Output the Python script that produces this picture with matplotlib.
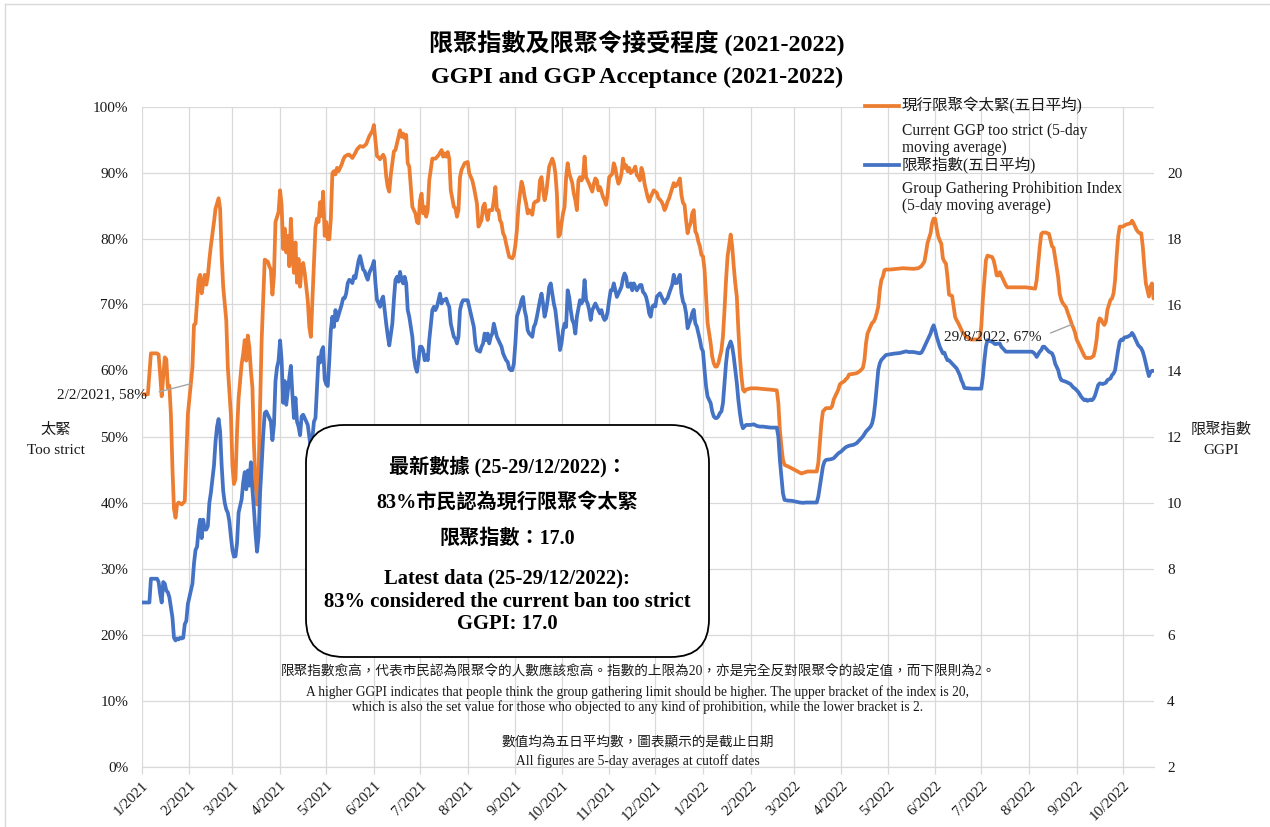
import numpy as np
import matplotlib
matplotlib.use('Agg')
import matplotlib.pyplot as plt
import matplotlib.dates as mdates
from matplotlib.ticker import FuncFormatter
from matplotlib.lines import Line2D
from matplotlib.patches import FancyBboxPatch

plt.rcParams['font.family'] = ['Liberation Serif', 'Noto Sans CJK TC']

# ---------------- data (days since 2021-01-01) ----------------
orange_days = [
    0, 4, 6, 10, 11, 12, 13, 14, 15, 16,
    17, 18, 19, 20, 21, 22, 23, 24, 26, 28,
    29, 30, 32, 33, 34, 35, 37, 38, 39, 40,
    41, 42, 43, 44, 45, 47, 48, 50, 51, 52,
    53, 55, 56, 58, 59, 60, 61, 62, 63, 65,
    66, 67, 68, 69, 70, 71, 72, 73, 74, 75,
    76, 77, 78, 79, 80, 82, 83, 84, 85, 86,
    87, 89, 90, 91, 92, 93, 94, 95, 96, 97,
    98, 99, 100, 101, 102, 103, 104, 105, 106, 107,
    108, 109, 110, 111, 112, 113, 114, 115, 116, 117,
    118, 119, 120, 121, 122, 123, 124, 125, 126, 127,
    128, 130, 131, 132, 134, 135, 137, 139, 140, 142,
    144, 146, 148, 150, 151, 152, 153, 154, 155, 157,
    158, 159, 160, 161, 162, 164, 165, 167, 168, 169,
    170, 171, 172, 173, 174, 176, 177, 178, 179, 180,
    181, 182, 183, 184, 185, 186, 187, 189, 191, 193,
    195, 196, 197, 198, 199, 200, 201, 203, 204, 205,
    206, 207, 208, 210, 212, 213, 215, 216, 218, 219,
    220, 221, 222, 223, 224, 225, 226, 228, 229, 230,
    231, 232, 233, 234, 235, 236, 237, 238, 239, 241,
    242, 243, 244, 245, 246, 247, 248, 249, 250, 251,
    252, 254, 255, 256, 257, 258, 259, 260, 261, 262,
    263, 264, 265, 267, 268, 269, 270, 271, 272, 273,
    274, 275, 276, 277, 278, 280, 281, 282, 283, 284,
    285, 286, 287, 288, 289, 290, 291, 293, 294, 295,
    296, 297, 298, 299, 300, 301, 302, 303, 304, 306,
    307, 308, 309, 310, 311, 312, 313, 314, 315, 316,
    317, 318, 320, 321, 322, 323, 324, 325, 326, 327,
    328, 329, 330, 331, 333, 335, 336, 337, 338, 339,
    340, 341, 342, 343, 345, 346, 347, 348, 349, 350,
    351, 352, 353, 354, 355, 356, 357, 358, 359, 360,
    361, 362, 363, 364, 365, 366, 367, 368, 370, 371,
    372, 373, 374, 375, 376, 377, 378, 379, 380, 381,
    383, 384, 385, 386, 387, 388, 389, 390, 391, 392,
    393, 396, 400, 404, 409, 413, 414, 415, 416, 417,
    418, 420, 425, 429, 433, 439, 440, 441, 442, 443,
    445, 448, 449, 450, 451, 452, 453, 454, 455, 457,
    458, 459, 460, 463, 465, 467, 469, 470, 471, 472,
    474, 475, 476, 477, 478, 479, 480, 481, 482, 483,
    484, 487, 491, 495, 502, 505, 507, 509, 510, 511,
    513, 514, 515, 516, 517, 518, 519, 520, 521, 522,
    523, 524, 525, 527, 528, 529, 530, 531, 532, 533,
    534, 536, 539, 545, 546, 547, 548, 549, 550, 553,
    554, 555, 556, 557, 558, 559, 560, 561, 562, 563,
    569, 575, 581, 582, 583, 584, 585, 586, 588, 590,
    592, 593, 594, 595, 596, 597, 598, 599, 600, 601,
    602, 604, 605, 606, 607, 608, 609, 610, 611, 612,
    613, 614, 617, 619, 620, 621, 622, 623, 624, 625,
    626, 627, 628, 630, 631, 632, 633, 634, 635, 636,
    638, 640, 643, 644, 645, 646, 647, 648, 649, 650,
    651, 652, 653, 654, 655, 656, 657, 658,
]
orange_pct = [
    56.4, 56.4, 62.6, 62.6, 62.4, 59.4, 56.1, 59.0, 62.0, 61.7,
    57.4, 57.7, 53.3, 45.1, 39.0, 37.7, 39.7, 40.0, 39.7, 40.2,
    46.6, 53.3, 58.0, 60.5, 66.9, 67.1, 73.8, 74.5, 71.7, 73.2,
    74.5, 73.0, 74.3, 76.8, 78.9, 82.5, 84.5, 86.1, 84.5, 77.4,
    72.7, 67.6, 60.5, 53.3, 45.6, 42.8, 43.6, 50.7, 55.8, 61.0,
    62.5, 64.6, 61.5, 65.3, 63.5, 60.0, 57.4, 48.7, 43.0, 39.7,
    44.1, 54.8, 64.6, 70.7, 76.8, 76.5, 75.8, 75.3, 71.5, 74.3,
    82.5, 84.0, 87.3, 85.0, 78.4, 81.5, 77.9, 80.4, 75.8, 83.0,
    78.0, 74.8, 79.4, 73.3, 76.9, 72.7, 75.8, 76.3, 74.8, 72.7,
    70.6, 66.6, 65.1, 70.6, 76.3, 81.7, 83.0, 82.5, 85.5, 83.4,
    87.1, 80.4, 82.5, 79.9, 79.9, 83.0, 89.9, 90.2, 89.7, 90.7,
    90.2, 91.2, 91.9, 92.4, 92.7, 92.7, 92.2, 93.0, 93.5, 94.0,
    93.9, 94.3, 95.5, 96.3, 97.2, 94.8, 92.5, 92.3, 92.0, 92.7,
    92.2, 89.4, 87.8, 87.1, 89.7, 93.2, 93.4, 95.4, 96.4, 95.4,
    95.9, 95.2, 95.7, 91.4, 90.9, 84.8, 84.3, 83.8, 82.5, 82.3,
    85.8, 86.8, 83.8, 84.8, 83.3, 84.3, 88.8, 92.1, 92.1, 92.6,
    93.4, 92.4, 92.9, 92.4, 93.1, 92.1, 87.3, 84.8, 84.6, 83.3,
    84.3, 89.3, 90.4, 91.4, 91.6, 89.9, 88.8, 87.8, 85.3, 81.8,
    82.3, 82.8, 84.8, 85.3, 83.8, 82.8, 84.3, 84.3, 85.8, 87.8,
    84.3, 84.3, 82.8, 82.3, 80.8, 80.3, 79.2, 78.2, 77.2, 77.0,
    77.5, 79.0, 81.3, 84.8, 86.8, 88.6, 87.8, 86.3, 85.3, 83.8,
    84.3, 83.6, 85.3, 85.6, 85.6, 85.8, 88.8, 89.3, 87.3, 85.8,
    86.8, 88.8, 90.9, 92.1, 91.4, 89.9, 86.8, 80.3, 80.6, 82.3,
    83.8, 84.8, 89.3, 91.4, 89.9, 88.4, 86.8, 85.8, 84.3, 88.8,
    89.3, 88.8, 89.3, 92.4, 89.3, 88.8, 88.3, 87.1, 88.3, 89.1,
    88.8, 87.3, 87.8, 87.1, 86.3, 85.8, 85.1, 86.8, 89.3, 89.8,
    91.4, 90.7, 89.3, 88.3, 88.8, 89.8, 92.1, 90.7, 91.1, 90.2,
    90.7, 89.9, 90.4, 90.9, 89.6, 89.3, 88.8, 90.7, 89.9, 88.3,
    87.3, 86.3, 85.6, 86.3, 87.3, 86.9, 86.1, 85.9, 85.6, 85.1,
    84.3, 84.8, 85.6, 86.1, 87.6, 88.4, 87.9, 88.1, 88.6, 89.1,
    86.6, 85.4, 85.1, 82.8, 80.8, 81.8, 82.3, 83.8, 84.3, 81.1,
    80.6, 79.5, 78.8, 77.5, 77.3, 75.3, 71.2, 67.2, 64.1, 62.1,
    61.1, 60.6, 60.6, 61.1, 62.1, 63.1, 65.2, 69.2, 73.7, 77.3,
    80.6, 78.8, 75.8, 73.2, 71.2, 66.2, 62.1, 59.1, 57.1, 56.8,
    57.1, 57.3, 57.3, 57.2, 57.1, 57.0, 55.1, 51.0, 48.5, 46.5,
    45.7, 45.5, 44.9, 44.4, 44.7, 44.7, 46.0, 49.0, 52.0, 53.8,
    54.3, 54.3, 54.6, 55.6, 56.1, 56.6, 57.1, 57.9, 58.1, 58.4,
    58.7, 58.9, 59.4, 59.5, 59.6, 59.9, 60.4, 61.6, 64.1, 65.6,
    66.7, 67.2, 67.4, 67.9, 68.7, 69.7, 72.2, 73.7, 74.2, 75.2,
    75.3, 75.3, 75.4, 75.5, 75.4, 75.5, 75.8, 76.5, 77.8, 79.3,
    80.8, 82.3, 83.0, 83.0, 81.5, 80.3, 79.7, 79.2, 77.0, 76.5,
    76.2, 74.2, 71.5, 71.3, 69.7, 68.1, 67.6, 67.2, 66.7, 66.2,
    65.7, 65.2, 64.7, 64.7, 66.7, 70.7, 73.7, 76.7, 77.4, 77.2,
    76.7, 75.7, 74.4, 74.4, 74.9, 74.4, 73.9, 73.4, 72.9, 72.6,
    72.6, 72.6, 72.4, 73.7, 76.2, 78.7, 80.7, 80.9, 80.9, 80.7,
    78.8, 78.6, 77.1, 75.6, 74.1, 71.6, 70.7, 70.2, 69.9, 69.6,
    68.9, 67.6, 66.9, 66.4, 65.7, 64.7, 64.2, 63.7, 63.2, 62.7,
    62.2, 61.9, 61.9, 62.2, 63.2, 64.7, 67.2, 67.9, 67.7, 67.2,
    66.9, 67.4, 69.2, 70.7, 70.9, 71.7, 73.7, 77.3, 80.3, 81.8,
    81.8, 82.1, 82.3, 82.7, 82.3, 81.8, 81.3, 81.0, 80.8, 80.8,
    78.8, 75.8, 73.2, 72.2, 71.2, 72.7, 73.2, 70.9,
]

blue_days = [
    0, 5, 6, 10, 11, 12, 13, 14, 15, 16,
    17, 18, 20, 21, 22, 23, 24, 25, 26, 27,
    28, 29, 30, 31, 33, 34, 35, 36, 37, 38,
    39, 40, 41, 42, 43, 44, 45, 47, 48, 49,
    50, 51, 52, 53, 54, 55, 56, 57, 58, 59,
    60, 61, 62, 63, 65, 66, 67, 68, 69, 70,
    71, 72, 73, 74, 75, 76, 77, 78, 79, 80,
    81, 82, 83, 84, 85, 86, 87, 88, 89, 90,
    91, 92, 93, 94, 95, 96, 97, 98, 99, 100,
    101, 102, 103, 104, 105, 106, 108, 109, 110, 111,
    112, 113, 114, 115, 116, 117, 118, 119, 120, 121,
    122, 123, 124, 125, 126, 127, 129, 130, 131, 132,
    133, 134, 135, 137, 138, 139, 140, 141, 142, 143,
    144, 145, 146, 147, 148, 150, 151, 152, 153, 154,
    155, 156, 157, 158, 159, 160, 161, 163, 164, 165,
    166, 167, 168, 169, 170, 171, 172, 173, 174, 176,
    177, 178, 179, 180, 181, 182, 183, 184, 185, 186,
    187, 189, 190, 191, 192, 193, 194, 195, 196, 197,
    198, 199, 200, 201, 203, 204, 205, 206, 207, 208,
    209, 210, 212, 213, 215, 216, 217, 218, 220, 221,
    222, 223, 224, 225, 226, 227, 228, 229, 230, 231,
    232, 234, 235, 236, 237, 238, 239, 240, 241, 242,
    243, 244, 246, 247, 248, 249, 250, 251, 252, 253,
    254, 255, 256, 257, 259, 260, 261, 262, 263, 264,
    265, 266, 267, 268, 269, 270, 272, 273, 274, 275,
    276, 277, 278, 279, 280, 281, 282, 283, 285, 286,
    287, 288, 289, 290, 291, 292, 293, 294, 295, 296,
    298, 299, 300, 301, 302, 303, 304, 305, 306, 307,
    308, 309, 311, 312, 313, 314, 315, 316, 317, 318,
    319, 320, 321, 322, 324, 325, 326, 327, 328, 329,
    330, 331, 332, 333, 334, 335, 336, 337, 338, 339,
    340, 341, 342, 343, 345, 346, 347, 348, 349, 350,
    351, 352, 353, 354, 355, 356, 357, 358, 359, 360,
    361, 362, 363, 364, 365, 366, 367, 368, 370, 371,
    372, 373, 374, 375, 376, 377, 378, 379, 380, 381,
    383, 384, 385, 386, 387, 388, 389, 390, 391, 392,
    393, 396, 398, 400, 402, 404, 409, 413, 414, 415,
    416, 417, 418, 420, 423, 425, 428, 430, 432, 436,
    439, 440, 441, 442, 443, 444, 445, 448, 450, 451,
    452, 453, 454, 455, 456, 458, 460, 463, 465, 467,
    469, 471, 474, 475, 476, 477, 478, 479, 480, 481,
    482, 484, 489, 493, 497, 499, 502, 504, 506, 507,
    508, 509, 510, 511, 513, 514, 515, 516, 517, 518,
    519, 520, 521, 522, 523, 524, 525, 527, 528, 529,
    530, 531, 532, 533, 534, 535, 540, 546, 547, 548,
    549, 550, 553, 555, 558, 559, 560, 561, 562, 563,
    571, 579, 580, 581, 582, 583, 584, 585, 586, 587,
    588, 589, 590, 592, 593, 594, 595, 596, 597, 598,
    599, 601, 604, 605, 606, 607, 608, 609, 610, 611,
    612, 613, 614, 615, 617, 618, 619, 620, 621, 622,
    623, 625, 627, 628, 630, 631, 632, 633, 634, 635,
    636, 637, 638, 639, 641, 643, 644, 645, 646, 647,
    648, 649, 650, 651, 652, 653, 654, 655, 656, 657,
    658,
]
blue_ggpi = [
    6.97, 6.97, 7.69, 7.69, 7.59, 7.23, 6.97, 7.59, 7.54, 7.33,
    7.28, 7.13, 6.51, 5.90, 5.82, 5.88, 5.85, 5.90, 5.88, 5.90,
    6.31, 6.41, 6.92, 7.13, 7.54, 8.15, 8.56, 8.66, 9.18, 9.48,
    8.92, 9.48, 9.18, 9.18, 9.28, 9.99, 10.30, 11.12, 11.84, 12.30,
    12.53, 12.15, 11.12, 10.35, 9.99, 9.79, 9.69, 9.43, 8.97, 8.56,
    8.36, 8.37, 8.77, 9.69, 10.10, 10.61, 10.92, 10.40, 10.97, 10.51,
    11.22, 10.40, 9.79, 9.07, 8.51, 8.97, 10.30, 11.12, 12.04, 12.71,
    12.76, 12.66, 12.56, 12.45, 11.89, 12.35, 13.68, 14.09, 14.30, 14.91,
    14.30, 13.02, 13.68, 12.96, 13.37, 13.78, 14.14, 13.27, 12.56, 13.17,
    12.45, 12.30, 12.04, 12.61, 12.66, 12.56, 12.35, 11.99, 11.63, 11.94,
    12.45, 12.56, 13.48, 14.40, 14.24, 14.60, 14.71, 13.73, 13.58, 13.53,
    14.30, 15.22, 15.63, 15.32, 15.83, 15.52, 15.83, 15.99, 16.19, 16.19,
    16.34, 16.65, 16.75, 16.65, 16.86, 16.80, 17.06, 17.32, 17.47, 17.27,
    17.06, 17.01, 16.86, 16.75, 16.96, 17.16, 17.32, 16.65, 16.14, 16.04,
    15.93, 16.14, 16.24, 15.83, 15.42, 15.06, 14.76, 15.42, 16.14, 16.74,
    16.84, 16.69, 16.99, 16.74, 16.64, 16.84, 16.64, 15.83, 15.63, 15.02,
    14.41, 14.11, 13.96, 14.31, 14.72, 14.72, 14.62, 14.31, 14.46, 14.31,
    14.92, 15.83, 15.93, 15.83, 15.93, 16.13, 16.33, 16.03, 16.13, 16.13,
    16.18, 16.03, 15.93, 15.42, 15.02, 14.97, 14.82, 15.02, 15.83, 16.03,
    16.13, 16.13, 16.13, 15.93, 15.53, 15.32, 14.82, 14.62, 14.57, 14.72,
    14.82, 15.12, 14.92, 15.12, 14.82, 15.02, 15.12, 15.42, 15.22, 15.02,
    14.92, 14.72, 14.52, 14.41, 14.31, 14.26, 14.06, 14.01, 14.01, 14.21,
    14.82, 15.63, 15.93, 16.13, 16.23, 15.83, 15.63, 15.22, 15.12, 15.07,
    15.02, 15.32, 15.42, 15.63, 16.13, 16.33, 16.03, 15.63, 15.83, 16.13,
    16.54, 16.64, 16.33, 16.03, 15.83, 15.42, 14.62, 14.82, 15.22, 15.42,
    15.32, 16.43, 16.23, 15.83, 15.53, 15.42, 15.12, 15.63, 16.13, 16.03,
    16.13, 16.74, 16.13, 16.03, 15.83, 15.53, 15.83, 15.93, 16.03, 15.93,
    15.73, 15.83, 15.63, 15.53, 15.58, 15.78, 16.13, 16.43, 16.43, 16.64,
    16.43, 16.23, 16.43, 16.54, 16.79, 16.94, 16.84, 16.54, 16.54, 16.64,
    16.43, 16.64, 16.54, 16.43, 16.59, 16.59, 16.38, 16.33, 16.23, 16.03,
    15.73, 15.63, 15.93, 15.98, 15.94, 16.24, 16.29, 16.34, 16.24, 16.14,
    16.04, 16.14, 16.19, 16.34, 16.60, 16.90, 16.65, 16.65, 16.80, 16.90,
    16.34, 16.09, 15.99, 15.74, 15.28, 15.43, 15.54, 15.74, 15.84, 15.43,
    15.33, 15.13, 14.93, 14.68, 14.58, 14.02, 13.52, 13.21, 13.01, 12.76,
    12.61, 12.56, 12.56, 12.61, 12.71, 12.76, 13.01, 13.62, 14.22, 14.63,
    14.88, 14.73, 14.42, 14.02, 13.62, 13.11, 12.71, 12.40, 12.25, 12.30,
    12.35, 12.35, 12.37, 12.32, 12.30, 12.30, 12.27, 12.27, 12.00, 11.29,
    10.79, 10.28, 10.08, 10.06, 10.05, 10.03, 10.00, 9.99, 10.00, 10.00,
    10.00, 10.18, 10.48, 10.79, 11.09, 11.24, 11.29, 11.31, 11.34, 11.39,
    11.44, 11.49, 11.52, 11.55, 11.60, 11.68, 11.72, 11.75, 11.80, 11.90,
    12.00, 12.15, 12.30, 12.40, 12.61, 13.01, 13.52, 14.02, 14.22, 14.32,
    14.37, 14.47, 14.51, 14.53, 14.58, 14.56, 14.56, 14.54, 14.52, 14.54,
    14.62, 14.72, 14.82, 14.92, 15.12, 15.27, 15.37, 15.22, 15.02, 14.87,
    14.72, 14.62, 14.52, 14.54, 14.41, 14.31, 14.31, 14.21, 14.16, 14.11,
    14.06, 13.96, 13.86, 13.71, 13.61, 13.47, 13.45, 13.45, 13.81, 14.31,
    14.72, 14.92, 14.87, 14.80, 14.82, 14.72, 14.67, 14.62, 14.57, 14.57,
    14.57, 14.57, 14.54, 14.49, 14.41, 14.49, 14.57, 14.62, 14.72, 14.72,
    14.67, 14.62, 14.57, 14.52, 14.41, 14.21, 14.11, 14.01, 13.81, 13.71,
    13.69, 13.66, 13.59, 13.53, 13.48, 13.45, 13.40, 13.35, 13.28, 13.20,
    13.15, 13.10, 13.12, 13.08, 13.12, 13.10, 13.15, 13.25, 13.40, 13.56,
    13.61, 13.59, 13.63, 13.71, 13.76, 13.86, 13.91, 14.01, 14.31, 14.62,
    14.87, 14.94, 14.92, 15.00, 15.02, 15.07, 15.14, 15.07, 14.97, 14.87,
    14.77, 14.72, 14.67, 14.57, 14.41, 14.21, 14.01, 13.83, 13.96, 13.99,
    13.99,
]

pct_ticks = list(range(0, 101, 10))
ggpi_ticks = list(range(2, 21, 2))
title_zh = '限聚指數及限聚令接受程度 (2021-2022)'
title_en = 'GGPI and GGP Acceptance (2021-2022)'
ann1_day, ann1_val, ann1_text = 32, 58, '2/2/2021, 58%'
ann2_day, ann2_val, ann2_text = 605, 67, '29/8/2022, 67%'

assert len(orange_days) == len(orange_pct)
assert len(blue_days) == len(blue_ggpi)

# ---------------- figure ----------------
W, H = 1270, 827
fig = plt.figure(figsize=(W / 100, H / 100), dpi=100)
fig.patch.set_facecolor('white')

def fx(x):
    return x / W

def fy(y):
    return 1 - y / H

L, R, B, T = 141.7, 1154.0, 766.5, 106.5
ax = fig.add_axes([fx(L), fy(B), (R - L) / W, (B - T) / H])
ax2 = ax.twinx()
ax2.patch.set_visible(False)

ORANGE = '#ED7D31'
BLUE = '#4472C4'
GRID = '#D9D9D9'
TXT = '#1a1a1a'

start = np.datetime64('2021-01-01')
x0 = mdates.date2num(start)
od = x0 + np.array(orange_days, dtype=float)
bd = x0 + np.array(blue_days, dtype=float)

ax.plot(od, orange_pct, color=ORANGE, lw=2.7, solid_joinstyle='round', solid_capstyle='round', zorder=3)
ax2.plot(bd, blue_ggpi, color=BLUE, lw=2.7, solid_joinstyle='round', solid_capstyle='round', zorder=3)

ax.set_xlim(x0, x0 + 658.3)
ax.set_ylim(0, 100)
ax2.set_ylim(2, 22)
ax.set_yticks(pct_ticks)
ax.yaxis.set_major_formatter(FuncFormatter(lambda v, p: f'{int(round(v))}%'))
ax2.set_yticks(ggpi_ticks)
ax2.yaxis.set_major_formatter(FuncFormatter(lambda v, p: f'{int(round(v))}'))

ax.xaxis.set_major_locator(mdates.MonthLocator())
def mfmt(v, p):
    d = mdates.num2date(v)
    return f'{d.month}/{d.year}'
ax.xaxis.set_major_formatter(FuncFormatter(mfmt))

ax.grid(True, color=GRID, lw=0.9)
ax.set_axisbelow(True)
for s in ['left', 'right', 'top']:
    ax.spines[s].set_visible(False)
ax.spines['bottom'].set_color(GRID)
ax.spines['bottom'].set_linewidth(0.9)
for s in ax2.spines.values():
    s.set_visible(False)

ax.tick_params(axis='x', length=5, width=0.9, color=GRID, labelsize=11, labelcolor=TXT, pad=4)
ax.tick_params(axis='y', length=0, labelsize=11, labelcolor=TXT, pad=9.6)
ax2.tick_params(axis='y', length=0, labelsize=11, labelcolor=TXT, pad=9.4)
for lbl in ax.get_xticklabels():
    lbl.set_rotation(45)
    lbl.set_ha('right')
    lbl.set_va('top')
    lbl.set_rotation_mode('anchor')

# annotations with leader lines
ax2.annotate(ann1_text, xy=(x0 + ann1_day, ann1_val), xycoords=ax.transData,
             xytext=(147, H - 395), textcoords='figure pixels',
             ha='right', va='center', fontsize=11, color=TXT,
             arrowprops=dict(arrowstyle='-', color='#A6A6A6', lw=1.0,
                             shrinkA=7, shrinkB=0, relpos=(1, 0.5)),
             annotation_clip=False, zorder=6)
ax2.annotate(ann2_text, xy=(x0 + ann2_day, ann2_val), xycoords=ax.transData,
             xytext=(1042, H - 336.5), textcoords='figure pixels',
             ha='right', va='center', fontsize=11, color=TXT,
             arrowprops=dict(arrowstyle='-', color='#A6A6A6', lw=1.0,
                             shrinkA=4.5, shrinkB=0, relpos=(1, 0.5)),
             annotation_clip=False, zorder=6)

# titles
fig.text(fx(637), fy(43), title_zh, ha='center', va='center', fontsize=17.4, fontweight='bold', color='black')
fig.text(fx(637), fy(77), title_en, ha='center', va='center', fontsize=17.4, fontweight='bold', color='black')

# axis titles
fig.text(fx(56), fy(430), '太緊', ha='center', va='center', fontsize=11, color=TXT)
fig.text(fx(56), fy(450), 'Too strict', ha='center', va='center', fontsize=11, color=TXT)
fig.text(fx(1221), fy(430), '限聚指數', ha='center', va='center', fontsize=11, color=TXT)
fig.text(fx(1221), fy(451), 'GGPI', ha='center', va='center', fontsize=11, color=TXT)

# legend (manual)
leg = [
    (ORANGE, 105.7, ['現行限聚令太緊(五日平均)', 'Current GGP too strict (5-day', 'moving average)'], [105.7, 131, 148]),
    (BLUE, 164.5, ['限聚指數(五日平均)', 'Group Gathering Prohibition Index', '(5-day moving average)'], [164.5, 189, 206.5]),
]
for col, ly, lines, ys in leg:
    fig.add_artist(Line2D([fx(865), fx(899)], [fy(ly), fy(ly)], color=col, lw=2.7, transform=fig.transFigure))
    for t, yy in zip(lines, ys):
        fig.text(fx(902), fy(yy), t, ha='left', va='center', fontsize=11.2, color=TXT)

# rounded box
box = FancyBboxPatch((306 / 100, (H - 657) / 100), (709 - 306) / 100, (657 - 425) / 100,
                     boxstyle='round,pad=0,rounding_size=0.38', transform=fig.dpi_scale_trans,
                     fc='white', ec='black', lw=1.3, zorder=5)
fig.add_artist(box)
bx = 507.5
box_lines = [
    ('最新數據 (25-29/12/2022)：', 466.7, 14.5),
    ('83%市民認為現行限聚令太緊', 502.7, 14.5),
    ('限聚指數：17.0', 539, 14.5),
    ('Latest data (25-29/12/2022):', 578, 14.9),
    ('83% considered the current ban too strict', 601.7, 14.9),
    ('GGPI: 17.0', 624, 14.9),
]
for t, yy, fs in box_lines:
    fig.text(fx(bx), fy(yy), t, ha='center', va='center', fontsize=fs, fontweight='bold', color='black', zorder=6)

# notes
notes = [
    ('限聚指數愈高，代表市民認為限聚令的人數應該愈高。指數的上限為20，亦是完全反對限聚令的設定值，而下限則為2。', 672, 9.8),
    ('A higher GGPI indicates that people think the group gathering limit should be higher. The upper bracket of the index is 20,', 691.7, 9.75),
    ('which is also the set value for those who objected to any kind of prohibition, while the lower bracket is 2.', 707, 9.75),
    ('數值均為五日平均數，圖表顯示的是截止日期', 741.7, 9.8),
    ('All figures are 5-day averages at cutoff dates', 760.7, 9.75),
]
for t, yy, fs in notes:
    fig.text(fx(638), fy(yy), t, ha='center', va='center', fontsize=fs, color=TXT, zorder=6)

# chart-area border (left & top visible)
fig.add_artist(Line2D([fx(5), fx(5)], [fy(4), 0], color=GRID, lw=1.0, transform=fig.transFigure))
fig.add_artist(Line2D([fx(5), 1], [fy(4), fy(4)], color=GRID, lw=1.0, transform=fig.transFigure))

fig.savefig('out.png', dpi=100)
